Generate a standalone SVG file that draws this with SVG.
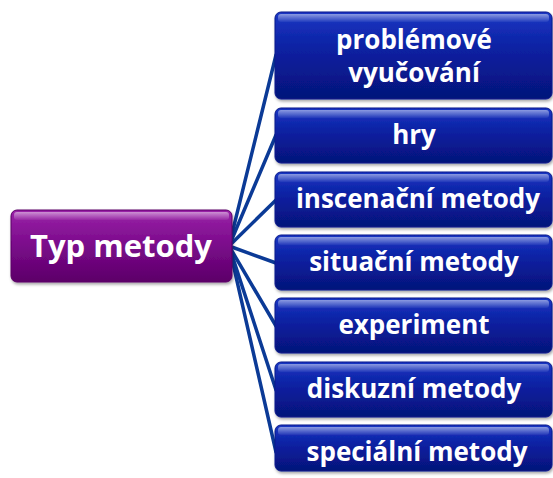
<svg xmlns="http://www.w3.org/2000/svg" width="553" height="478" viewBox="0 0 553 478">
  <defs>
    <linearGradient id="blueFill" x1="0" y1="0" x2="0" y2="1">
      <stop offset="0" stop-color="#1a36c4"/>
      <stop offset="0.45" stop-color="#0a20a0"/>
      <stop offset="1" stop-color="#05137a"/>
    </linearGradient>
    <linearGradient id="purpleFill" x1="0" y1="0" x2="0" y2="1">
      <stop offset="0" stop-color="#9a22a8"/>
      <stop offset="0.5" stop-color="#7a0a8a"/>
      <stop offset="1" stop-color="#5c0068"/>
    </linearGradient>
    <linearGradient id="gloss" x1="0" y1="0" x2="0" y2="1">
      <stop offset="0" stop-color="#ffffff" stop-opacity="0.5"/>
      <stop offset="1" stop-color="#ffffff" stop-opacity="0.05"/>
    </linearGradient>
    <filter id="shadow" x="-10%" y="-20%" width="120%" height="150%">
      <feDropShadow dx="1" dy="2" stdDeviation="1.5" flood-color="#000" flood-opacity="0.35"/>
    </filter>
  </defs>
  <style>
    .box-blue { fill: url(#blueFill); stroke: #0a1a8a; stroke-width: 1; filter: url(#shadow); }
    .box-purple { fill: url(#purpleFill); stroke: #5a0066; stroke-width: 1; filter: url(#shadow); }
    .gloss { fill: url(#gloss); }
    .label { fill: #ffffff; font-family: "Open Sans", "Liberation Sans", sans-serif; font-weight: bold; text-anchor: middle; }
    .conn { stroke: #0b3a96; stroke-width: 3.5; fill: none; stroke-linecap: round; }
  </style>

  <g id="connectors">
    <line class="conn" x1="229" y1="246" x2="276" y2="55"/>
    <line class="conn" x1="229" y1="246" x2="276" y2="135"/>
    <line class="conn" x1="229" y1="246" x2="276" y2="200"/>
    <line class="conn" x1="229" y1="246" x2="276" y2="263"/>
    <line class="conn" x1="229" y1="246" x2="276" y2="326"/>
    <line class="conn" x1="229" y1="246" x2="276" y2="390"/>
    <line class="conn" x1="229" y1="246" x2="276" y2="452"/>
  </g>

  <g id="root">
    <rect class="box-purple" x="11" y="210" width="221" height="72" rx="6"/>
    <rect class="gloss" x="14" y="212" width="215" height="8" rx="3"/>
    <text class="label" x="121" y="257" font-size="31">Typ metody</text>
  </g>

  <g id="n1">
    <rect class="box-blue" x="275" y="12" width="277" height="87" rx="6"/>
    <rect class="gloss" x="278" y="14" width="271" height="8" rx="3"/>
    <text class="label" x="414" y="49" font-size="26">problémové</text>
    <text class="label" x="414" y="82" font-size="26">vyučování</text>
  </g>

  <g id="n2">
    <rect class="box-blue" x="275" y="108" width="277" height="55" rx="6"/>
    <rect class="gloss" x="278" y="110" width="271" height="8" rx="3"/>
    <text class="label" x="414" y="144" font-size="26">hry</text>
  </g>

  <g id="n3">
    <rect class="box-blue" x="275" y="172" width="277" height="55" rx="6"/>
    <rect class="gloss" x="278" y="174" width="271" height="8" rx="3"/>
    <text class="label" x="418" y="208" font-size="26">inscenační metody</text>
  </g>

  <g id="n4">
    <rect class="box-blue" x="275" y="235" width="277" height="55" rx="6"/>
    <rect class="gloss" x="278" y="237" width="271" height="8" rx="3"/>
    <text class="label" x="414" y="271" font-size="26">situační metody</text>
  </g>

  <g id="n5">
    <rect class="box-blue" x="275" y="298" width="277" height="55" rx="6"/>
    <rect class="gloss" x="278" y="300" width="271" height="8" rx="3"/>
    <text class="label" x="414" y="334" font-size="26">experiment</text>
  </g>

  <g id="n6">
    <rect class="box-blue" x="275" y="362" width="277" height="55" rx="6"/>
    <rect class="gloss" x="278" y="364" width="271" height="8" rx="3"/>
    <text class="label" x="414" y="398" font-size="26">diskuzní metody</text>
  </g>

  <g id="n7">
    <rect class="box-blue" x="275" y="425" width="277" height="46" rx="6"/>
    <rect class="gloss" x="278" y="427" width="271" height="8" rx="3"/>
    <text class="label" x="417" y="461" font-size="26">speciální metody</text>
  </g>
</svg>
